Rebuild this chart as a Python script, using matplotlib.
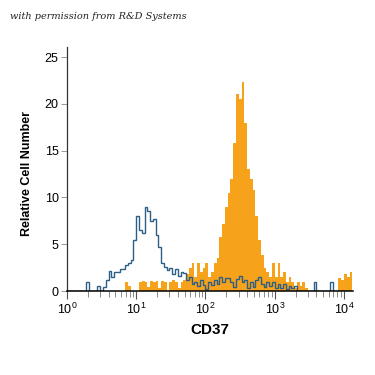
import numpy as np
import matplotlib
matplotlib.use("Agg")
import matplotlib.pyplot as plt
from matplotlib.ticker import LogLocator, NullFormatter

# histogram counts on log-spaced channels (0.04 decade each, from 10^0)
isotype_counts = [
    0, 0, 0, 0, 0, 0, 0, 1.0, 0, 0,
    0, 0.5, 0, 0.4, 1.2, 2.1, 1.5, 2.0, 2.0, 2.4,
    2.4, 2.8, 3.0, 3.3, 5.5, 8.0, 6.5, 6.2, 9.0, 8.5,
    7.5, 7.7, 6.0, 4.7, 3.0, 2.6, 2.2, 2.5, 1.8, 2.3,
    1.6, 2.0, 1.9, 1.2, 1.5, 0.8, 1.0, 0.5, 1.2, 0.6,
    0.2, 1.0, 0.6, 1.2, 0.8, 1.5, 1.0, 1.4, 1.4, 1.0,
    0.4, 1.3, 1.6, 1.0, 1.2, 0.3, 1.0, 0.4, 1.2, 1.5,
    0.8, 0.4, 1.0, 0.5, 1.0, 0.3, 0.8, 0.3, 0.8, 0.2,
    0.5, 0.3, 0.5, 0, 0, 0, 0, 0, 0, 1.0,
    0, 0, 0, 0, 0, 1.0, 0, 0, 0, 0,
    0, 0, 0,
]
cd37_counts = [
    0, 0, 0, 0, 0, 0, 0, 0, 0, 0,
    0, 0, 0, 0, 0, 0, 0, 0, 0, 0,
    0, 1.0, 0.5, 0, 0, 0, 1.0, 1.1, 1.0, 0.4,
    1.1, 1.0, 1.1, 0.3, 1.1, 1.0, 0, 1.0, 1.2, 1.0,
    0.3, 1.0, 1.2, 1.8, 2.5, 3.0, 1.5, 3.0, 2.0, 2.5,
    3.0, 1.5, 2.0, 3.0, 3.5, 5.8, 7.2, 9.0, 10.5, 12.0,
    15.8, 21.1, 20.5, 22.3, 18.0, 13.0, 12.0, 10.8, 8.0, 5.5,
    3.8, 2.5, 2.0, 1.5, 3.0, 1.5, 3.0, 1.5, 2.0, 1.0,
    1.5, 1.0, 0.3, 1.0, 0.5, 1.0, 0.3, 0, 0, 0,
    0, 0, 0, 0, 0, 0, 0, 0, 1.4, 1.2,
    1.8, 1.5, 2.0,
]
x_tick_labels = ["$10^0$", "$10^1$", "$10^2$", "$10^3$", "$10^4$"]

label_font = ["Liberation Sans", "DejaVu Sans"]
plt.rcParams["mathtext.fontset"] = "custom"
plt.rcParams["mathtext.rm"] = "Liberation Sans"

fig = plt.figure(figsize=(3.75, 3.75), dpi=100)
ax = fig.add_axes([0.1787, 0.224, 0.7626, 0.6507])

edges = np.logspace(0, 0.04 * len(cd37_counts), len(cd37_counts) + 1)
ax.stairs(cd37_counts, edges, fill=True, color="#f7a21b", linewidth=0)
ax.stairs(isotype_counts, edges, fill=False, color="#2d5f86", linewidth=1.0)

ax.set_xscale("log")
ax.set_xlim(1, 10 ** 4.13)
ax.set_ylim(0, 26.07)

ax.spines["top"].set_visible(False)
ax.spines["right"].set_visible(False)
ax.spines["left"].set_color("#333333")
ax.spines["bottom"].set_color("black")
ax.spines["left"].set_linewidth(0.9)
ax.spines["bottom"].set_linewidth(1.1)

ax.set_yticks([0, 5, 10, 15, 20, 25])
ax.set_xticks([1, 10, 100, 1000, 10000])
ax.set_xticklabels(x_tick_labels)
ax.xaxis.set_minor_locator(LogLocator(base=10, subs=np.arange(2, 10)))
ax.xaxis.set_minor_formatter(NullFormatter())
ax.tick_params(axis="x", which="major", length=6, width=0.8, color="#555555", direction="out", pad=2)
ax.tick_params(axis="x", which="minor", length=4, width=0.6, color="#777777", direction="out")
ax.tick_params(axis="y", length=4, width=0.6, color="#888888", direction="out", pad=2)
for lab in ax.get_xticklabels() + ax.get_yticklabels():
    lab.set_family(label_font)
    lab.set_fontsize(9)

ax.set_xlabel("CD37", family=label_font, fontsize=11, fontweight="bold", labelpad=4)
ax.set_ylabel("Relative Cell Number", family=label_font, fontsize=9, fontweight="bold")
ax.yaxis.set_label_coords(-0.12, 0.48)

fig.text(0.027, 0.955, "with permission from R&D Systems", family="DejaVu Serif",
         style="italic", fontsize=7, va="center", ha="left", color="#222222")

fig.savefig("out.png", dpi=100, facecolor="white")
